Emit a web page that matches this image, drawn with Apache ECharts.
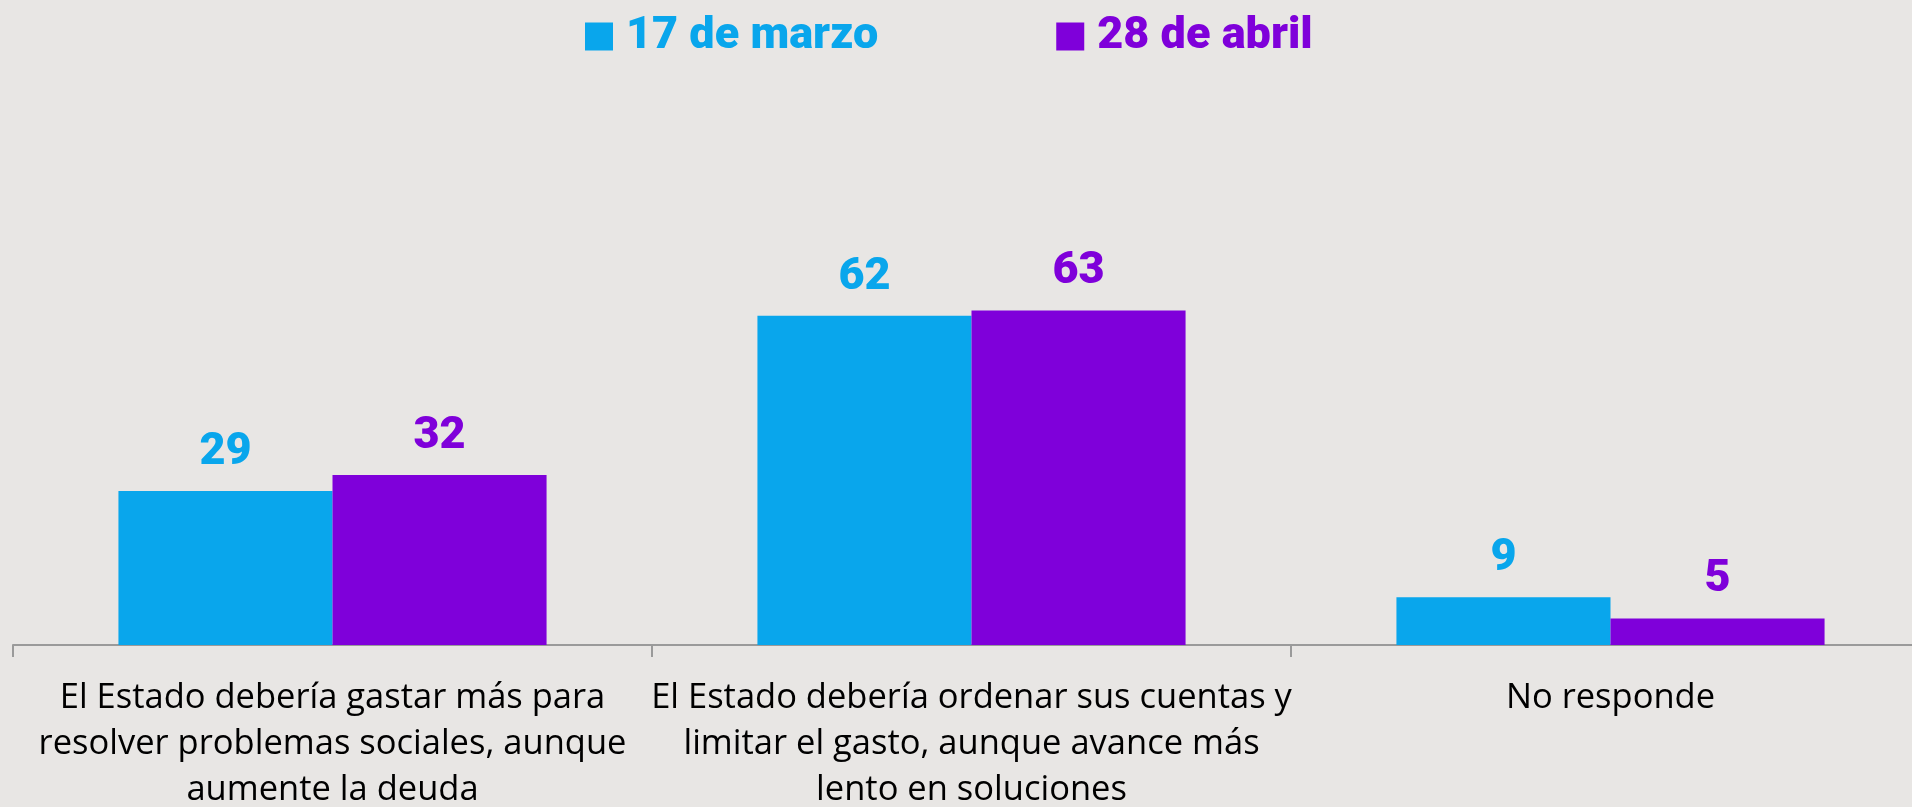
<!DOCTYPE html>
<html>
<head>
<meta charset="utf-8">
<script src="https://cdn.jsdelivr.net/npm/echarts@6/dist/echarts.min.js"></script>
<style>
html, body { margin: 0; padding: 0; background: #e8e6e4; }
#chart { width: 1912px; height: 807px; }
</style>
</head>
<body>
<div id="chart"></div>
<script>
// datos
var categorias = [
  'El Estado debería gastar más para\nresolver problemas sociales, aunque\naumente la deuda',
  'El Estado debería ordenar sus cuentas y\nlimitar el gasto, aunque avance más\nlento en soluciones',
  'No responde'
];
var nombres = ['17 de marzo', '28 de abril'];
var marzo = [29, 62, 9];
var abril = [32, 63, 5];
var colores = ['#09a6ec', '#7f00da'];

var chart = echarts.init(document.getElementById('chart'));

function serie(nombre, datos, color) {
  return {
    name: nombre,
    type: 'bar',
    data: datos,
    barGap: 0,
    barCategoryGap: '33%',
    itemStyle: { color: color },
    label: {
      show: true,
      position: 'top',
      distance: 16,
      color: color,
      fontFamily: 'Roboto',
      fontWeight: 900,
      fontSize: 45
    }
  };
}

chart.setOption({
  backgroundColor: '#e8e6e4',
  animation: false,
  legend: {
    left: 580,
    top: 9,
    itemWidth: 28,
    itemHeight: 28,
    itemGap: 178,
    icon: 'rect',
    data: [
      { name: nombres[0], textStyle: { color: colores[0] } },
      { name: nombres[1], textStyle: { color: colores[1] } }
    ],
    textStyle: {
      fontFamily: 'Roboto',
      fontWeight: 900,
      fontSize: 45,
      padding: [0, 0, 0, 8]
    }
  },
  grid: { left: 13, top: 114, width: 1917, height: 531, outerBoundsMode: 'none', containLabel: false },
  xAxis: {
    type: 'category',
    data: categorias,
    axisLine: { lineStyle: { color: '#9a9a9a', width: 2 } },
    axisTick: { show: true, interval: 0, length: 12, lineStyle: { color: '#9a9a9a', width: 2 } },
    axisLabel: {
      interval: 0,
      margin: 30,
      color: '#000',
      fontFamily: 'Open Sans',
      fontSize: 34.5,
      lineHeight: 46
    }
  },
  yAxis: { type: 'value', min: 0, max: 100, show: false },
  series: [
    serie(nombres[0], marzo, colores[0]),
    serie(nombres[1], abril, colores[1])
  ]
});
</script>
</body>
</html>
